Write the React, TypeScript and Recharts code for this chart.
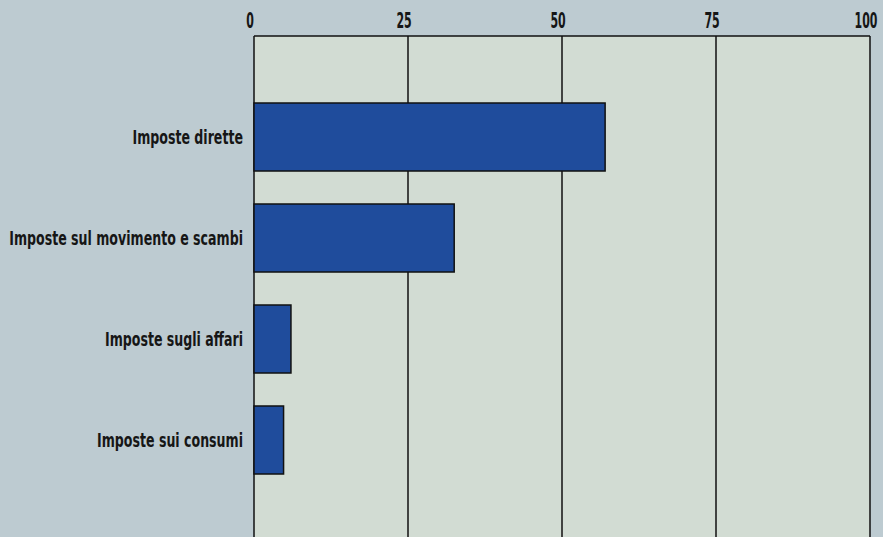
import React from 'react';
import { BarChart, Bar, XAxis, YAxis, CartesianGrid } from 'recharts';

const categories = [
  'Imposte dirette',
  'Imposte sul movimento e scambi',
  'Imposte sugli affari',
  'Imposte sui consumi',
];
const values = [57, 32.5, 6, 4.8];
const xTicks = [0, 25, 50, 75, 100];

const data = categories.map((name, i) => ({ name, value: values[i] }));

const FONT = '"DejaVu Sans Condensed", "DejaVu Sans", sans-serif';

const CategoryTick = (props: any) => {
  const { x, y, payload } = props;
  return (
    <g transform={`translate(${x},${y})`}>
      <text
        transform="scale(0.7,1)"
        textAnchor="end"
        y={7}
        fill="#161616"
        fontSize={20}
        fontWeight="bold"
        fontFamily={FONT}
      >
        {payload.value}
      </text>
    </g>
  );
};

const ValueTick = (props: any) => {
  const { x, y, payload } = props;
  return (
    <g transform={`translate(${x - 4},${y})`}>
      <text
        transform="scale(0.58,1)"
        textAnchor="middle"
        y={0}
        fill="#161616"
        fontSize={21}
        fontWeight="bold"
        fontFamily={FONT}
      >
        {payload.value}
      </text>
    </g>
  );
};

export default function App() {
  return (
    <div
      style={{
        position: 'fixed',
        left: 0,
        top: 0,
        width: 883,
        height: 537,
        overflow: 'hidden',
        background: '#bdcbd1',
      }}
    >
      <BarChart
        width={883}
        height={560}
        data={data}
        layout="vertical"
        margin={{ top: 0, right: 13, bottom: 18, left: 0 }}
      >
        <CartesianGrid
          horizontal={false}
          vertical={true}
          stroke="#111"
          strokeWidth={1.5}
          fill="#d2dcd3"
          fillOpacity={1}
        />
        <XAxis
          type="number"
          orientation="top"
          domain={[0, 100]}
          ticks={xTicks}
          height={36}
          axisLine={{ stroke: '#111', strokeWidth: 1.5 }}
          tickLine={false}
          tickSize={0}
          tickMargin={8}
          tick={<ValueTick />}
          interval={0}
        />
        <YAxis
          type="category"
          dataKey="name"
          width={254}
          axisLine={false}
          tickLine={false}
          tickSize={0}
          tickMargin={11}
          padding={{ top: 50, bottom: 52 }}
          tick={<CategoryTick />}
          interval={0}
        />
        <Bar
          dataKey="value"
          fill="#1f4c9c"
          stroke="#111"
          strokeWidth={1.5}
          barSize={68}
          isAnimationActive={false}
        />
      </BarChart>
    </div>
  );
}
